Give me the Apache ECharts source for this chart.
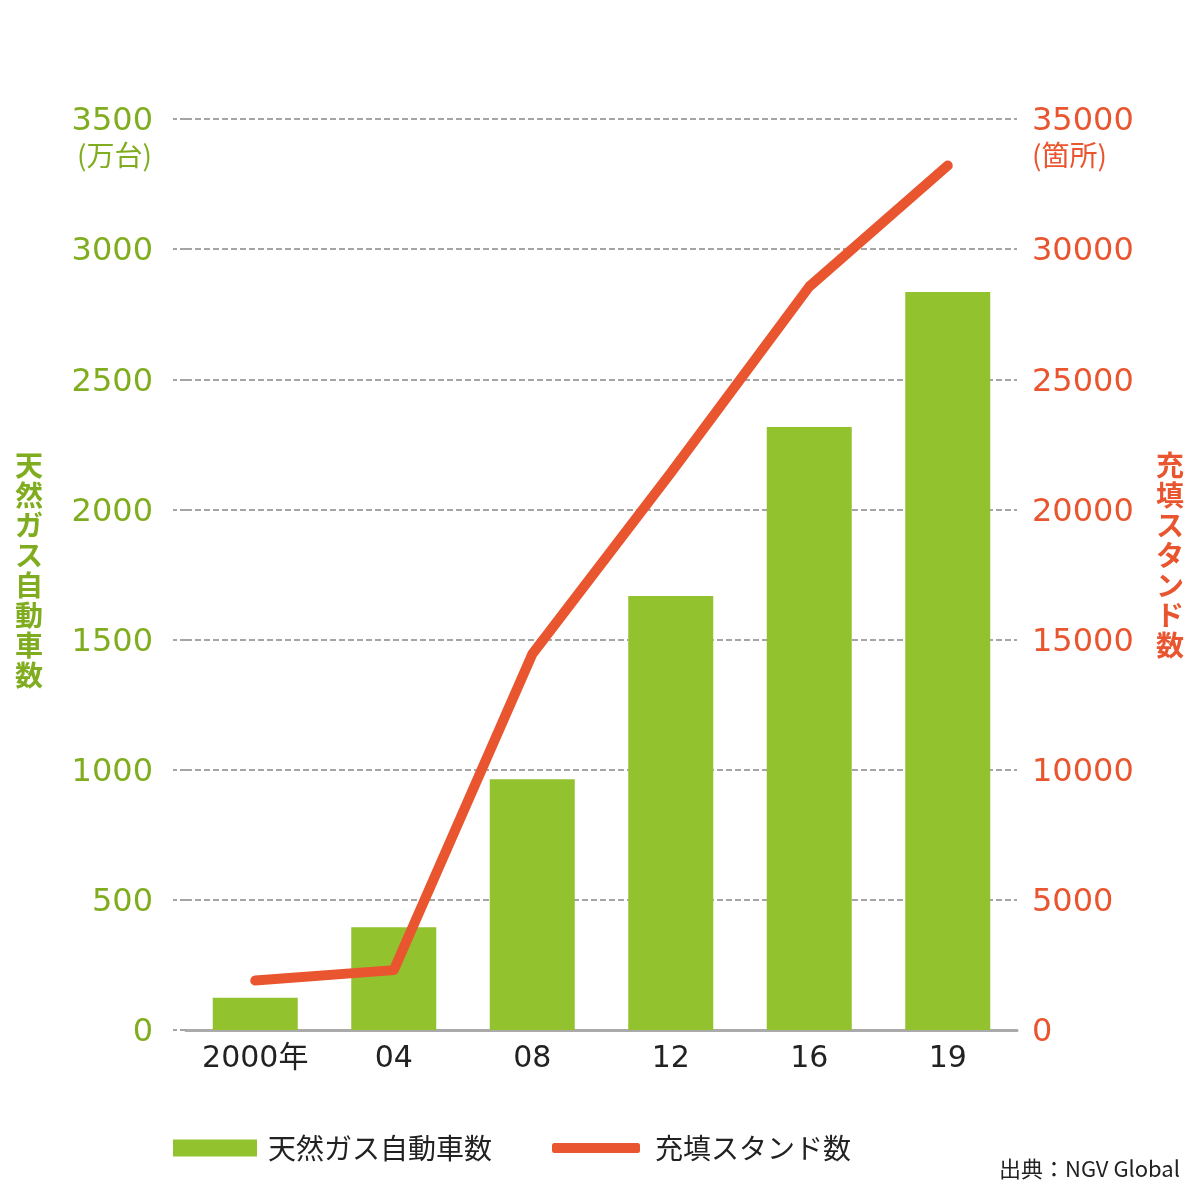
<!DOCTYPE html>
<html>
<head>
<meta charset="utf-8">
<script src="https://cdn.jsdelivr.net/npm/echarts@6/dist/echarts.min.js"></script>
<style>
html,body{margin:0;padding:0;background:#fff;}
#chart{width:1200px;height:1200px;}
</style>
</head>
<body>
<div id="chart"></div>
<script>
const categories = ['2000年', '04', '08', '12', '16', '19'];
const vehicles = [124, 395, 963, 1667, 2317, 2835];
const stations = [1900, 2300, 14440, 21400, 28560, 33210];
const vehicleName = '天然ガス自動車数';
const stationName = '充填スタンド数';
const FONT = '"Noto Sans CJK JP", "Noto Sans", sans-serif';
const NUMFONT = '"DejaVu Sans", "Noto Sans CJK JP", sans-serif';
const GREEN = '#93c22f';
const GREEN_TXT = '#80ad1f';
const ORANGE = '#e9552f';

const chart = echarts.init(document.getElementById('chart'));
chart.setOption({
  backgroundColor: '#fff',
  animation: false,
  textStyle: { fontFamily: FONT },
  grid: { left: 186, right: 183, top: 119, bottom: 170 },
  legend: [
    {
      data: [{ name: vehicleName, icon: 'rect' }],
      left: 173, top: 1134, padding: 0,
      itemWidth: 84, itemHeight: 17,
      textStyle: { fontSize: 28, color: '#222', fontFamily: FONT, padding: [0, 0, 0, 6] }
    },
    {
      data: [{ name: stationName, icon: 'roundRect' }],
      left: 552, top: 1134, padding: 0,
      itemWidth: 88, itemHeight: 10,
      textStyle: { fontSize: 28, color: '#222', fontFamily: FONT, padding: [0, 0, 0, 10] }
    }
  ],
  xAxis: {
    type: 'category',
    data: categories,
    axisLine: { lineStyle: { color: '#aaa', width: 3 } },
    axisTick: { show: false },
    axisLabel: { color: '#222', fontSize: 30, margin: 14, fontFamily: NUMFONT }
  },
  yAxis: [
    {
      type: 'value', min: 0, max: 3500, interval: 500,
      axisLine: { show: false },
      axisTick: { show: true, length: 13, lineStyle: { color: '#a5a5a5', width: 2, type: [6, 3] } },
      axisLabel: {
        color: GREEN_TXT, fontSize: 32, margin: 33, fontFamily: NUMFONT,
        formatter: v => '{n|' + v + '}',
        rich: { n: { color: GREEN_TXT, fontSize: 32, fontFamily: NUMFONT, padding: [6, 0, 0, 0] } }
      },
      splitLine: { lineStyle: { color: '#a5a5a5', width: 2, type: [6, 3] } }
    },
    {
      type: 'value', min: 0, max: 35000, interval: 5000,
      axisLine: { show: false },
      axisTick: { show: false },
      axisLabel: {
        color: ORANGE, fontSize: 32, margin: 15, fontFamily: NUMFONT,
        formatter: v => '{n|' + v + '}',
        rich: { n: { color: ORANGE, fontSize: 32, fontFamily: NUMFONT, padding: [6, 0, 0, 0] } }
      },
      splitLine: { show: false }
    }
  ],
  series: [
    {
      name: vehicleName, type: 'bar', data: vehicles,
      barWidth: 85,
      itemStyle: { color: GREEN }
    },
    {
      name: stationName, type: 'line', yAxisIndex: 1, data: stations,
      symbol: 'none', z: 5,
      itemStyle: { color: ORANGE },
      lineStyle: { color: ORANGE, width: 10, cap: 'round', join: 'round' }
    }
  ],
  graphic: [
    { type: 'text', right: 1200 - 152, top: 141,
      style: { text: '(万台)', fill: GREEN_TXT, font: '28px ' + FONT } },
    { type: 'text', left: 1032, top: 141,
      style: { text: '(箇所)', fill: ORANGE, font: '28px ' + FONT } },
    { type: 'text', left: 15, top: 450,
      style: { text: vehicleName.split('').join('\n'), fill: GREEN_TXT, font: 'bold 28px ' + FONT, lineHeight: 30, align: 'center' } },
    { type: 'text', left: 1156, top: 450,
      style: { text: stationName.split('').join('\n'), fill: ORANGE, font: 'bold 28px ' + FONT, lineHeight: 30, align: 'center' } },
    { type: 'text', right: 20, top: 1158,
      style: { text: '出典：NGV Global', fill: '#222', font: '22px ' + FONT } }
  ]
});
</script>
</body>
</html>
